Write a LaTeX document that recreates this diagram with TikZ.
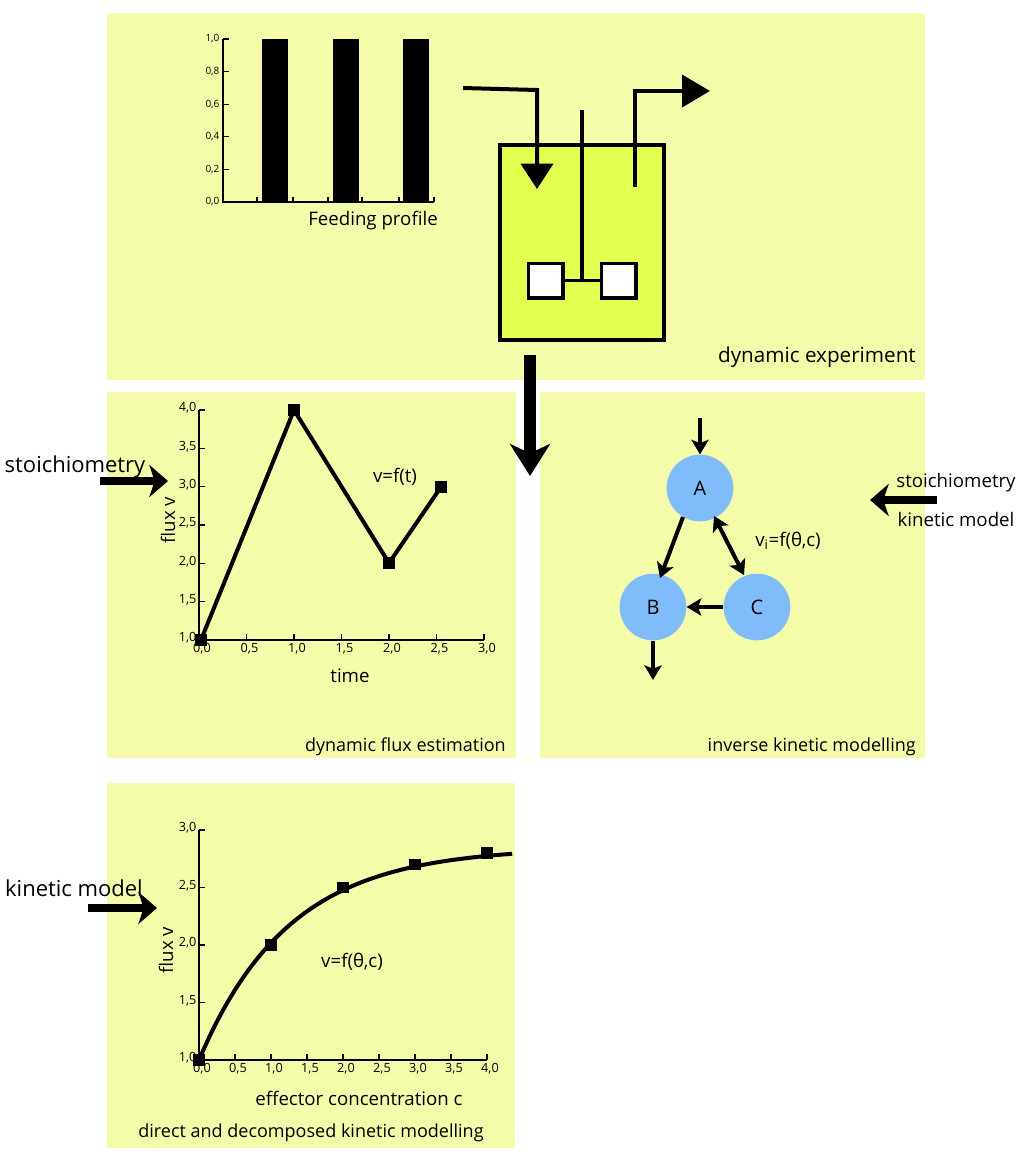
\documentclass[tikz,border=0pt]{standalone}
\usepackage{fontspec}
\setmainfont{Open Sans}
\usetikzlibrary{arrows.meta}
\definecolor{panel}{HTML}{F4FCAA}
\definecolor{vessel}{HTML}{E3FF50}
\definecolor{circ}{HTML}{80BCFA}
\tikzset{
  panelbox/.style={fill=panel,draw=none},
  axis/.style={line width=1.5pt},
  curve/.style={line width=3pt,line join=round},
  mk/.style={fill=black,minimum size=8.5pt,inner sep=0pt,draw=none},
  tl/.style={font=\fontsize{9.5}{10}\selectfont,inner sep=1pt},
  tlsmall/.style={font=\fontsize{7.5}{8}\selectfont,inner sep=1pt},
  lab/.style={font=\fontsize{13}{15}\selectfont,inner sep=0pt},
  sidelab/.style={font=\fontsize{16.5}{18}\selectfont,inner sep=0pt},
  biglab/.style={font=\fontsize{15.5}{17}\selectfont,inner sep=0pt},
  fat/.style={line width=6pt,-{Stealth[length=14pt,width=24pt,inset=4pt]}},
  thin/.style={line width=3pt,-{Stealth[length=11pt,width=13pt,inset=2.5pt]}},
  mol/.style={circle,fill=circ,minimum size=50pt,inner sep=0pt,font=\fontsize{15}{17}\selectfont}
}
\begin{document}
\begin{tikzpicture}[x=0.75pt,y=-0.75pt]
\useasboundingbox (0,0) rectangle (1024,1160);
% panels
\fill[panelbox] (107,13) rectangle (925,380);
\fill[panelbox] (107,392) rectangle (516,758);
\fill[panelbox] (540,392) rectangle (925,758);
\fill[panelbox] (107,783) rectangle (515,1148);

% ---- feeding profile
\foreach \xa/\xb in {262/288,333/359,403/429} \fill (\xa,39) rectangle (\xb,202);
\draw[line width=1.2pt] (223,39) -- (223,202) -- (434,202);
\foreach \v [count=\i from 0] in {0,2,4,6,8} {
  \draw[line width=1pt] (223,202-32.6*\i) -- (229,202-32.6*\i);
  \node[tlsmall,anchor=east] at (221,202-32.6*\i) {0,\v};}
\draw[line width=1pt] (223,39) -- (229,39);
\node[tlsmall,anchor=east] at (221,39) {1,0};
\foreach \x in {257,293,328,362,399,434} \draw[line width=1pt] (\x,202) -- (\x,197);
\node[lab,font=\fontsize{14}{16}\selectfont] (feed) at (373,221) {Feeding profile};

% ---- reactor
\node[draw,line width=3pt,fill=vessel,minimum width=123pt,minimum height=146pt,inner sep=0pt] (vessel) at (582,242.5) {};
\draw[line width=3pt] (582,110) -- (582,280) coordinate (hub);
\node[draw,line width=2.5pt,fill=white,minimum size=26pt,inner sep=0pt] (pl) at (545.5,280.5) {};
\node[draw,line width=2.5pt,fill=white,minimum size=26pt,inner sep=0pt] (pr) at (618.5,280.5) {};
\draw[line width=2.5pt] (pl) -- (pr);
\coordinate (inS) at (463,88);
\coordinate (inT) at (537,189);
\draw[line width=3pt,-{Triangle[length=19pt,width=24pt]}] (inS) -- (537,90) -- (inT);
\coordinate (outS) at (635,187);
\coordinate (outT) at (710,91);
\draw[line width=3pt,-{Triangle[length=21pt,width=24pt]}] (outS) -- (635,91) -- (outT);
\node[biglab,anchor=east] (dynexp) at (916,357) {dynamic experiment};

% big down arrow
\coordinate (bigS) at (530,355);
\coordinate (bigT) at (530,476);
\draw[line width=9pt,-{Stealth[length=24pt,width=30pt,inset=7pt]}] (bigS) -- (bigT);

% ---- dynamic flux chart
\draw[axis] (199,410) -- (199,640) -- (484,640);
\foreach \v/\t in {0/{1,0},1/{1,5},2/{2,0},3/{2,5},4/{3,0},5/{3,5},6/{4,0}} {
  \draw[line width=1pt] (199,640-38.33*\v) -- (205,640-38.33*\v);
  \node[tl,anchor=east] at (198,640-38.33*\v-2) {\t};}
\foreach \v/\t in {0/{0,0},1/{0,5},2/{1,0},3/{1,5},4/{2,0},5/{2,5},6/{3,0}} {
  \draw[line width=1pt] (199+47.5*\v,640) -- (199+47.5*\v,634);
  \node[tl,anchor=north] at (202+47.5*\v,642) {\t};}
\draw[curve] (201,640) -- (294,410) -- (389,563) -- (441,487);
\foreach \p in {(201,640),(294,410),(389,563),(441,487)} \node[mk] at \p {};
\node[lab,font=\fontsize{14}{16}\selectfont] (vft) at (395,477) {v=f(t)};
\node[lab,font=\fontsize{14}{16}\selectfont] (time) at (350,676) {time};
\node[lab,font=\fontsize{14}{16}\selectfont,rotate=90] (fluxa) at (168,520) {flux v};
\node[lab,anchor=east,font=\fontsize{13.5}{15}\selectfont] (dfe) at (506,747) {dynamic flux estimation};
\node[sidelab] (st1) at (75,467) {stoichiometry};
\coordinate (st1S) at (100,481);
\coordinate (st1T) at (168,481);
\draw[fat] (st1S) -- (st1T);

% ---- inverse kinetic modelling
\node[mol] (A) at (700,488) {A};
\node[mol] (B) at (653,607) {B};
\node[mol] (C) at (757,607) {C};
\coordinate (Ain) at (700,418);
\coordinate (Bout) at (653,680);
\draw[thin] (Ain) -- (A);
\draw[thin] (683,517) -- (660,578);
\draw[thin,{Stealth[length=11pt,width=13pt,inset=2.5pt]}-{Stealth[length=11pt,width=13pt,inset=2.5pt]}] (714,516) -- (744,575);
\draw[thin] (C) -- (B);
\draw[thin] (B) -- (Bout);
\node[lab,font=\fontsize{14}{16}\selectfont] (vi) at (788,541) {v\textsubscript{i}=f(θ,c)};
\node[lab,font=\fontsize{14}{16}\selectfont] (st2) at (956,483) {stoichiometry};
\node[lab,font=\fontsize{14}{16}\selectfont] (km2) at (956,519) {kinetic model};
\coordinate (st2S) at (937,500);
\coordinate (st2T) at (870,500);
\draw[fat] (st2S) -- (st2T);
\node[lab,anchor=east,font=\fontsize{13.5}{15}\selectfont] (ikm) at (916,747) {inverse kinetic modelling};

% ---- direct kinetic modelling
\draw[axis] (199,830) -- (199,1060) -- (487,1060);
\foreach \v/\t in {0/{1,0},1/{1,5},2/{2,0},3/{2,5},4/{3,0}} {
  \draw[line width=1pt] (199,1060-57.5*\v) -- (205,1060-57.5*\v);
  \node[tl,anchor=east] at (198,1060-57.5*\v-2) {\t};}
\foreach \v/\t in {0/{0,0},1/{0,5},2/{1,0},3/{1,5},4/{2,0},5/{2,5},6/{3,0},7/{3,5},8/{4,0}} {
  \draw[line width=1pt] (199+36*\v,1060) -- (199+36*\v,1054);
  \node[tl,anchor=north] at (202+36*\v,1062) {\t};}
\draw[curve,domain=0:4.35,samples=60,smooth] plot ({199+72*\x},{1060-115*1.85*(1-exp(-0.8*\x))});
\foreach \c/\v in {0/1,1/2,2/2.5,3/2.7,4/2.8} \node[mk] at ({199+72*\c},{1060-115*(\v-1)}) {};
\node[lab,font=\fontsize{14}{16}\selectfont] (vfc) at (352,962) {v=f(θ,c)};
\node[lab,font=\fontsize{14}{16}\selectfont] (eff) at (359,1098) {effector concentration c};
\node[lab,font=\fontsize{14}{16}\selectfont,rotate=90] (fluxb) at (166,950) {flux v};
\node[lab,font=\fontsize{13.5}{15}\selectfont] (ddk) at (311,1133) {direct and decomposed kinetic modelling};
\node[sidelab] (km1) at (74,888) {kinetic model};
\coordinate (km1S) at (88,908);
\coordinate (km1T) at (157,908);
\draw[fat] (km1S) -- (km1T);
\end{tikzpicture}
\end{document}
